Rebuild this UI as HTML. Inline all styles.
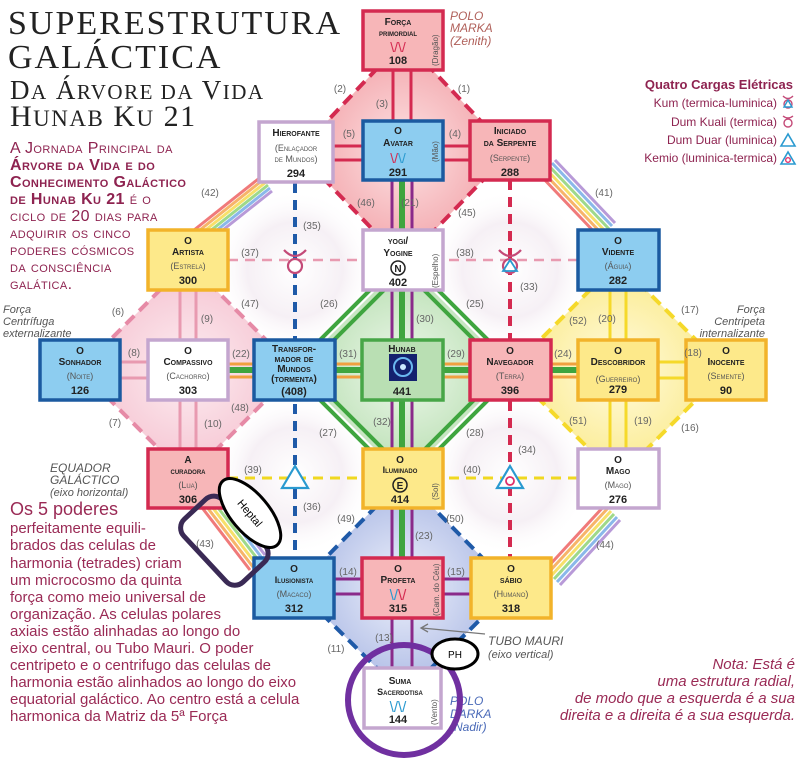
<!DOCTYPE html>
<html><head><meta charset="utf-8">
<style>
html,body{margin:0;padding:0;background:#fff;}
svg{display:block;}
.t{font-family:"Liberation Serif",serif;}
.s{font-family:"Liberation Sans",sans-serif;}
.nt{font-family:"Liberation Sans",sans-serif;font-weight:bold;font-size:10px;fill:#222;text-anchor:middle;font-variant:small-caps;}
.ns{font-family:"Liberation Sans",sans-serif;font-size:9px;fill:#555;text-anchor:middle;font-variant:small-caps;}
.nn{font-family:"Liberation Sans",sans-serif;font-weight:bold;font-size:11px;fill:#222;text-anchor:middle;}
.lb{font-family:"Liberation Sans",sans-serif;font-size:10px;fill:#666;text-anchor:middle;}
.vt{font-family:"Liberation Sans",sans-serif;font-size:8px;fill:#555;}
.p{font-family:"Liberation Sans",sans-serif;font-size:16px;fill:#8e2350;font-variant:small-caps;letter-spacing:0.4px;}
.q{font-family:"Liberation Sans",sans-serif;font-size:15px;fill:#9a2a55;}
.lg{font-family:"Liberation Sans",sans-serif;font-size:12px;fill:#8e2350;text-anchor:end;}
</style></head><body>
<svg width="803" height="758" viewBox="0 0 803 758" xmlns="http://www.w3.org/2000/svg">
<defs>
<radialGradient id="g1"><stop offset="0" stop-color="#fff"/><stop offset="0.6" stop-color="#f6f0f5"/><stop offset="1" stop-color="#fff" stop-opacity="0"/></radialGradient>
<radialGradient id="gr"><stop offset="0" stop-color="#fde3e4"/><stop offset="1" stop-color="#f2a2a8"/></radialGradient>
<radialGradient id="gp"><stop offset="0" stop-color="#fdeef2"/><stop offset="1" stop-color="#f5c2d0"/></radialGradient>
<radialGradient id="gy"><stop offset="0" stop-color="#fffbe0"/><stop offset="1" stop-color="#fbea8a"/></radialGradient>
<radialGradient id="gb"><stop offset="0" stop-color="#eef1fb"/><stop offset="1" stop-color="#aab8e4"/></radialGradient>
<radialGradient id="gg"><stop offset="0" stop-color="#eef8ec"/><stop offset="1" stop-color="#b7deb0"/></radialGradient>
</defs>

<circle cx="295" cy="270" r="80" fill="url(#g1)"/>
<circle cx="510" cy="270" r="80" fill="url(#g1)"/>
<circle cx="295" cy="475" r="80" fill="url(#g1)"/>
<circle cx="510" cy="475" r="80" fill="url(#g1)"/>

<polygon points="404,40 298,152 404,262 510,152" fill="url(#gr)" stroke="#d42a50" stroke-width="4" stroke-dasharray="12,7"/>
<polygon points="188,262 80,370 188,478 296,370" fill="url(#gp)" stroke="#e68aa6" stroke-width="4" stroke-dasharray="12,7"/>
<polygon points="618,262 510,370 618,478 726,370" fill="url(#gy)" stroke="#f5d92a" stroke-width="4" stroke-dasharray="12,7"/>
<polygon points="404,478 296,588 404,695 512,588" fill="url(#gb)" stroke="#1f5aa8" stroke-width="4" stroke-dasharray="12,7"/>
<polygon points="404,262 296,370 404,478 512,370" fill="url(#gg)"/>
<g fill="none" stroke="#3fa53f" stroke-width="4">
<polygon points="404,256 290,370 404,484 518,370"/>
<polygon points="404,270 304,370 404,470 504,370"/>
</g>

<g stroke-width="3" stroke-linecap="butt">
<g><line x1="262" y1="176" x2="184" y2="238" stroke="#f07a7a"/><line x1="264" y1="179" x2="186" y2="241" stroke="#f7b46a"/><line x1="266" y1="182" x2="188" y2="244" stroke="#f7e06a"/><line x1="268" y1="185" x2="190" y2="247" stroke="#9fd98a"/><line x1="270" y1="188" x2="192" y2="250" stroke="#8ab8ea"/><line x1="272" y1="191" x2="194" y2="253" stroke="#b89ad8"/></g>
<g><line x1="540" y1="175" x2="600" y2="238" stroke="#f07a7a"/><line x1="543" y1="172" x2="603" y2="235" stroke="#f7b46a"/><line x1="546" y1="169" x2="606" y2="232" stroke="#f7e06a"/><line x1="549" y1="166" x2="609" y2="229" stroke="#9fd98a"/><line x1="552" y1="163" x2="612" y2="226" stroke="#8ab8ea"/><line x1="555" y1="160" x2="615" y2="223" stroke="#b89ad8"/></g>
<g><line x1="200" y1="505" x2="250" y2="570" stroke="#f07a7a"/><line x1="203" y1="502" x2="253" y2="567" stroke="#f7b46a"/><line x1="206" y1="499" x2="256" y2="564" stroke="#f7e06a"/><line x1="209" y1="496" x2="259" y2="561" stroke="#9fd98a"/><line x1="212" y1="493" x2="262" y2="558" stroke="#8ab8ea"/><line x1="215" y1="490" x2="265" y2="555" stroke="#b89ad8"/></g>
<g><line x1="605" y1="505" x2="545" y2="570" stroke="#f07a7a"/><line x1="608" y1="508" x2="548" y2="573" stroke="#f7b46a"/><line x1="611" y1="511" x2="551" y2="576" stroke="#f7e06a"/><line x1="614" y1="514" x2="554" y2="579" stroke="#9fd98a"/><line x1="617" y1="517" x2="557" y2="582" stroke="#8ab8ea"/><line x1="620" y1="520" x2="560" y2="585" stroke="#b89ad8"/></g>
</g>

<line x1="295" y1="183" x2="295" y2="558" stroke="#1f5aa8" stroke-width="4" stroke-dasharray="10,7"/>
<line x1="510" y1="180" x2="510" y2="558" stroke="#d42a50" stroke-width="4" stroke-dasharray="10,7"/>
<line x1="228" y1="260" x2="578" y2="260" stroke="#e89ab0" stroke-width="2.5" stroke-dasharray="10,7"/>
<line x1="228" y1="478" x2="578" y2="478" stroke="#f0d820" stroke-width="3" stroke-dasharray="10,7"/>

<line x1="393" y1="70" x2="393" y2="122" stroke="#d42a50" stroke-width="3"/>
<line x1="411" y1="70" x2="411" y2="122" stroke="#d42a50" stroke-width="3"/>
<line x1="392" y1="180" x2="392" y2="668" stroke="#8a2a8a" stroke-width="3"/>
<line x1="412" y1="180" x2="412" y2="668" stroke="#8a2a8a" stroke-width="3"/>
<line x1="402" y1="180" x2="402" y2="558" stroke="#3fa53f" stroke-width="6"/>
<line x1="228" y1="364" x2="578" y2="364" stroke="#f0a040" stroke-width="3"/>
<line x1="228" y1="377" x2="578" y2="377" stroke="#f0a040" stroke-width="3"/>
<line x1="228" y1="370" x2="578" y2="370" stroke="#3fa53f" stroke-width="6"/>
<line x1="333" y1="146" x2="470" y2="146" stroke="#d42a50" stroke-width="3"/>
<line x1="333" y1="160" x2="470" y2="160" stroke="#d42a50" stroke-width="3"/>
<line x1="120" y1="362" x2="148" y2="362" stroke="#e89ab0" stroke-width="3"/>
<line x1="120" y1="378" x2="148" y2="378" stroke="#e89ab0" stroke-width="3"/>
<line x1="180" y1="262" x2="180" y2="449" stroke="#e89ab0" stroke-width="3"/>
<line x1="196" y1="262" x2="196" y2="449" stroke="#e89ab0" stroke-width="3"/>
<line x1="610" y1="262" x2="610" y2="449" stroke="#f5d92a" stroke-width="3"/>
<line x1="626" y1="262" x2="626" y2="449" stroke="#f5d92a" stroke-width="3"/>
<line x1="658" y1="362" x2="685" y2="362" stroke="#f5d92a" stroke-width="3"/>
<line x1="658" y1="378" x2="685" y2="378" stroke="#f5d92a" stroke-width="3"/>
<line x1="333" y1="579" x2="470" y2="579" stroke="#8a2a8a" stroke-width="3"/>
<line x1="333" y1="594" x2="470" y2="594" stroke="#8a2a8a" stroke-width="3"/>

<g fill="#fff" stroke="#c44a78" stroke-width="2.2"><circle cx="295" cy="266" r="7"/><path d="M284,250 Q295,262 306,250" fill="none"/></g>
<g stroke="#c44a78" stroke-width="2.2" fill="none"><circle cx="510" cy="266" r="7" fill="#fff"/><path d="M499,250 Q510,262 521,250"/></g>
<polygon points="510,260 503,271 517,271" fill="none" stroke="#2a9ad0" stroke-width="1.8"/>
<polygon points="295,466 282,488 308,488" fill="#fff" stroke="#2a9ad0" stroke-width="2.2"/>
<polygon points="510,466 497,488 523,488" fill="#fff" stroke="#2a9ad0" stroke-width="2.2"/>
<circle cx="510" cy="481" r="4" fill="none" stroke="#e0306a" stroke-width="1.8"/>

<g stroke-width="3.5">
<rect x="363" y="11" width="80" height="59" fill="#f7b6b8" stroke="#d42a50"/>
<rect x="259" y="122" width="74" height="60" fill="#fff" stroke="#c4a6cf"/>
<rect x="363" y="121" width="80" height="59" fill="#8dcdf0" stroke="#1b5aa0"/>
<rect x="470" y="121" width="80" height="59" fill="#f7b6b8" stroke="#d42a50"/>
<rect x="148" y="230" width="80" height="60" fill="#fde98a" stroke="#f2b32a"/>
<rect x="363" y="230" width="80" height="60" fill="#fff" stroke="#c4a6cf"/>
<rect x="578" y="230" width="81" height="60" fill="#8dcdf0" stroke="#1b5aa0"/>
<rect x="40" y="340" width="80" height="60" fill="#8dcdf0" stroke="#1b5aa0"/>
<rect x="148" y="340" width="80" height="60" fill="#fff" stroke="#c4a6cf"/>
<rect x="254" y="340" width="81" height="60" fill="#8dcdf0" stroke="#1b5aa0"/>
<rect x="362" y="340" width="81" height="60" fill="#b9dfb3" stroke="#47a647"/>
<rect x="470" y="340" width="81" height="60" fill="#f7b6b8" stroke="#d42a50"/>
<rect x="578" y="340" width="80" height="60" fill="#fde98a" stroke="#f2b32a"/>
<rect x="686" y="340" width="80" height="60" fill="#fde98a" stroke="#f2b32a"/>
<rect x="148" y="449" width="80" height="59" fill="#f7b6b8" stroke="#d42a50"/>
<rect x="363" y="449" width="80" height="59" fill="#fde98a" stroke="#f2b32a"/>
<rect x="578" y="449" width="81" height="59" fill="#fff" stroke="#c4a6cf"/>
<rect x="254" y="558" width="80" height="60" fill="#8dcdf0" stroke="#1b5aa0"/>
<rect x="362" y="558" width="81" height="60" fill="#f7b6b8" stroke="#d42a50"/>
<rect x="471" y="558" width="80" height="60" fill="#fde98a" stroke="#f2b32a"/>
<rect x="364" y="668" width="77" height="60" fill="#fff" stroke="#c4a6cf"/>
</g>

<text class="nt" x="398" y="25">Força</text><text class="nt" x="398" y="36" style="font-size:9px">primordial</text>
<text x="398" y="52" text-anchor="middle" font-family="Liberation Sans" font-size="14" fill="#d42a50">\/\/</text>
<text class="nn" x="398" y="64">108</text>
<text class="vt" transform="translate(438,66) rotate(-90)">(Dragão)</text>

<text class="nt" x="296" y="136">Hierofante</text><text class="ns" x="296" y="151">(Enlaçador</text><text class="ns" x="296" y="162">de Mundos)</text><text class="nn" x="296" y="177">294</text>
<text class="nt" x="398" y="134">O</text><text class="nt" x="398" y="146">Avatar</text>
<text x="398" y="163" text-anchor="middle" font-family="Liberation Sans" font-size="14" fill="#d42a50">\/<tspan fill="#2a9ad0">\/</tspan></text>
<text class="nn" x="398" y="176">291</text><text class="vt" transform="translate(438,162) rotate(-90)">(Mão)</text>
<text class="nt" x="510" y="134">Iniciado</text><text class="nt" x="510" y="146">da Serpente</text><text class="ns" x="510" y="161">(Serpente)</text><text class="nn" x="510" y="176">288</text>

<text class="nt" x="188" y="244">O</text><text class="nt" x="188" y="255">Artista</text><text class="ns" x="188" y="269">(Estrela)</text><text class="nn" x="188" y="284">300</text>
<text class="nt" x="398" y="244">yogi/</text><text class="nt" x="398" y="256">Yogine</text>
<circle cx="398" cy="268" r="7" fill="none" stroke="#222" stroke-width="1.5"/><text class="nt" x="398" y="272" style="font-variant:normal">N</text>
<text class="nn" x="398" y="286">402</text><text class="vt" transform="translate(438,288) rotate(-90)">(Espelho)</text>
<text class="nt" x="618" y="244">O</text><text class="nt" x="618" y="255">Vidente</text><text class="ns" x="618" y="269">(Águia)</text><text class="nn" x="618" y="284">282</text>

<text class="nt" x="80" y="354">O</text><text class="nt" x="80" y="365">Sonhador</text><text class="ns" x="80" y="379">(Noite)</text><text class="nn" x="80" y="394">126</text>
<text class="nt" x="188" y="354">O</text><text class="nt" x="188" y="365">Compassivo</text><text class="ns" x="188" y="379">(Cachorro)</text><text class="nn" x="188" y="394">303</text>
<text class="nt" x="294" y="352">Transfor-</text><text class="nt" x="294" y="362">mador de</text><text class="nt" x="294" y="372">Mundos</text><text class="nt" x="294" y="382">(tormenta)</text><text class="nn" x="294" y="395">(408)</text>
<text class="nt" x="402" y="352">Hunab</text><text class="nt" x="402" y="363">Ku 21</text>
<rect x="389" y="354" width="28" height="27" fill="#14216e"/><circle cx="403" cy="367" r="9" fill="none" stroke="#6ab8f0" stroke-width="2"/><circle cx="403" cy="367" r="3" fill="#cde8ff"/>
<text class="nn" x="402" y="395">441</text>
<text class="nt" x="510" y="354">O</text><text class="nt" x="510" y="365">Navegador</text><text class="ns" x="510" y="379">(Terra)</text><text class="nn" x="510" y="394">396</text>
<text class="nt" x="618" y="354">O</text><text class="nt" x="618" y="365">Descobridor</text><text class="ns" x="618" y="382">(Guerreiro)</text><text class="nn" x="618" y="393">279</text>
<text class="nt" x="726" y="354">O</text><text class="nt" x="726" y="365">Inocente</text><text class="ns" x="726" y="379">(Semente)</text><text class="nn" x="726" y="394">90</text>

<text class="nt" x="188" y="463">A</text><text class="nt" x="188" y="474" style="font-size:9px">curadora</text><text class="ns" x="188" y="488">(Lua)</text><text class="nn" x="188" y="503">306</text>
<text class="nt" x="400" y="463">O</text><text class="nt" x="400" y="473" style="font-size:9px">Iluminado</text>
<circle cx="400" cy="485" r="7" fill="none" stroke="#222" stroke-width="1.5"/><text class="nt" x="400" y="489" style="font-variant:normal">E</text>
<text class="nn" x="400" y="503">414</text><text class="vt" transform="translate(438,500) rotate(-90)">(Sol)</text>
<text class="nt" x="618" y="463">O</text><text class="nt" x="618" y="474">Mago</text><text class="ns" x="618" y="488">(Mago)</text><text class="nn" x="618" y="503">276</text>

<text class="nt" x="294" y="572">O</text><text class="nt" x="294" y="583" style="font-size:9px">Ilusionista</text><text class="ns" x="294" y="597">(Macaco)</text><text class="nn" x="294" y="612">312</text>
<text class="nt" x="398" y="572">O</text><text class="nt" x="398" y="583">Profeta</text>
<text x="398" y="600" text-anchor="middle" font-family="Liberation Sans" font-size="15" fill="#2a9ad0">\/<tspan fill="#d42a50">\/</tspan></text>
<text class="nn" x="398" y="612">315</text><text class="vt" transform="translate(439,616) rotate(-90)">(Cam. do Céu)</text>
<text class="nt" x="511" y="572">O</text><text class="nt" x="511" y="583">sábio</text><text class="ns" x="511" y="597">(Humano)</text><text class="nn" x="511" y="612">318</text>
<text class="nt" x="400" y="684">Suma</text><text class="nt" x="400" y="695" style="font-size:9px">Sacerdotisa</text>
<text x="398" y="712" text-anchor="middle" font-family="Liberation Sans" font-size="15" fill="#2a9ad0">\/\/</text>
<text class="nn" x="398" y="723">144</text><text class="vt" transform="translate(437,725) rotate(-90)">(Vento)</text>

<g>
<text class="lb" x="340" y="92">(2)</text><text class="lb" x="382" y="107">(3)</text><text class="lb" x="464" y="92">(1)</text>
<text class="lb" x="349" y="137">(5)</text><text class="lb" x="455" y="137">(4)</text>
<text class="lb" x="210" y="196">(42)</text><text class="lb" x="366" y="206">(46)</text><text class="lb" x="410" y="206">(21)</text><text class="lb" x="467" y="216">(45)</text><text class="lb" x="604" y="196">(41)</text>
<text class="lb" x="312" y="229">(35)</text><text class="lb" x="250" y="256">(37)</text><text class="lb" x="465" y="256">(38)</text><text class="lb" x="529" y="290">(33)</text>
<text class="lb" x="250" y="307">(47)</text><text class="lb" x="329" y="307">(26)</text><text class="lb" x="425" y="322">(30)</text><text class="lb" x="475" y="307">(25)</text>
<text class="lb" x="118" y="315">(6)</text><text class="lb" x="207" y="322">(9)</text><text class="lb" x="578" y="324">(52)</text><text class="lb" x="607" y="322">(20)</text><text class="lb" x="690" y="313">(17)</text>
<text class="lb" x="134" y="356">(8)</text><text class="lb" x="241" y="357">(22)</text><text class="lb" x="348" y="357">(31)</text><text class="lb" x="456" y="357">(29)</text><text class="lb" x="563" y="357">(24)</text><text class="lb" x="693" y="356">(18)</text>
<text class="lb" x="240" y="411">(48)</text><text class="lb" x="115" y="426">(7)</text><text class="lb" x="213" y="427">(10)</text><text class="lb" x="382" y="425">(32)</text><text class="lb" x="328" y="436">(27)</text><text class="lb" x="475" y="436">(28)</text>
<text class="lb" x="578" y="424">(51)</text><text class="lb" x="643" y="424">(19)</text><text class="lb" x="690" y="431">(16)</text><text class="lb" x="527" y="453">(34)</text>
<text class="lb" x="253" y="473">(39)</text><text class="lb" x="472" y="473">(40)</text>
<text class="lb" x="312" y="510">(36)</text><text class="lb" x="346" y="522">(49)</text><text class="lb" x="424" y="539">(23)</text><text class="lb" x="455" y="522">(50)</text>
<text class="lb" x="205" y="547">(43)</text><text class="lb" x="605" y="548">(44)</text>
<text class="lb" x="348" y="575">(14)</text><text class="lb" x="456" y="575">(15)</text><text class="lb" x="384" y="641">(13)</text><text class="lb" x="336" y="652">(11)</text>
</g>

<g class="t" fill="#222">
<text x="8" y="34" font-size="34" letter-spacing="2">SUPERESTRUTURA</text>
<text x="8" y="68" font-size="34" letter-spacing="2">GALÁCTICA</text>
<text x="10" y="99" font-size="27" letter-spacing="1.5">D<tspan font-size="21">A</tspan> Á<tspan font-size="21">RVORE DA</tspan> V<tspan font-size="21">IDA</tspan></text>
<text x="10" y="126" font-size="30" letter-spacing="1.5">H<tspan font-size="23">UNAB</tspan> K<tspan font-size="23">U</tspan> 21</text>
</g>

<g class="p">
<text x="10" y="153">A Jornada Principal da</text>
<text x="10" y="170" font-weight="bold">Árvore da Vida e do</text>
<text x="10" y="187" font-weight="bold">Conhecimento Galáctico</text>
<text x="10" y="204"><tspan font-weight="bold">de Hunab Ku 21</tspan> é o</text>
<text x="10" y="221">ciclo de 20 dias para</text>
<text x="10" y="238">adquirir os cinco</text>
<text x="10" y="255">poderes cósmicos</text>
<text x="10" y="272">da consciência</text>
<text x="10" y="289">galática.</text>
</g>

<g class="s" font-style="italic" font-size="11" fill="#555">
<text x="3" y="313">Força</text><text x="3" y="325">Centrífuga</text><text x="3" y="337">externalizante</text>
<text x="765" y="313" text-anchor="end">Força</text><text x="765" y="325" text-anchor="end">Centripeta</text><text x="765" y="337" text-anchor="end">internalizante</text>
<text x="50" y="472" font-size="12">EQUADOR</text><text x="50" y="484" font-size="12">GALÁCTICO</text><text x="50" y="496">(eixo horizontal)</text>
<text x="450" y="20" fill="#b0605a" font-size="12">POLO</text><text x="450" y="32" fill="#b0605a" font-size="12">MARKA</text><text x="450" y="45" fill="#b0605a" font-size="12">(Zenith)</text>
<text x="488" y="645" font-size="12">TUBO MAURI</text><text x="488" y="658">(eixo vertical)</text>
<text x="450" y="705" fill="#4a6ab8" font-size="12">POLO</text><text x="450" y="718" fill="#4a6ab8" font-size="12">DARKA</text><text x="450" y="731" fill="#4a6ab8" font-size="12">(Nadir)</text>
</g>
<line x1="485" y1="634" x2="422" y2="628" stroke="#777" stroke-width="1.3"/>
<polyline points="428,624 421,628 428,632" fill="none" stroke="#777" stroke-width="1.3"/>

<text class="lg" x="793" y="89" font-weight="bold" style="font-size:13px">Quatro Cargas Elétricas</text>
<text class="lg" x="777" y="107">Kum (termica-luminica)</text>
<text class="lg" x="777" y="126">Dum Kuali (termica)</text>
<text class="lg" x="777" y="144">Dum Duar (luminica)</text>
<text class="lg" x="777" y="162">Kemio (luminica-termica)</text>
<g fill="none" stroke-width="1.4">
<circle cx="788" cy="104" r="4" stroke="#c44a78"/><polygon points="788,100 784,107 792,107" stroke="#2a9ad0"/><path d="M783,96 Q788,101 793,96" stroke="#c44a78"/>
<circle cx="788" cy="123" r="4" stroke="#c44a78"/><path d="M783,116 Q788,120 793,116" stroke="#c44a78"/>
<polygon points="788,134 781,146 795,146" stroke="#2a9ad0" stroke-width="1.6"/>
<polygon points="788,152 781,164 795,164" stroke="#2a9ad0" stroke-width="1.6"/><circle cx="788" cy="160" r="2.3" stroke="#e0306a"/>
</g>

<g class="q">
<text x="10" y="515" font-size="18">Os 5 poderes</text>
<text x="10" y="533">perfeitamente equili-</text>
<text x="10" y="550">brados das celulas de</text>
<text x="10" y="568">harmonia (tetrades) criam</text>
<text x="10" y="585">um microcosmo da quinta</text>
<text x="10" y="602">força como meio universal de</text>
<text x="10" y="619">organização. As celulas polares</text>
<text x="10" y="636">axiais estão alinhadas ao longo do</text>
<text x="10" y="653">eixo central, ou Tubo Mauri. O poder</text>
<text x="10" y="670">centripeto e o centrifugo das celulas de</text>
<text x="10" y="687">harmonia estão alinhados ao longo do eixo</text>
<text x="10" y="704">equatorial galáctico. Ao centro está a celula</text>
<text x="10" y="721">harmonica da Matriz da 5ª Força</text>
</g>
<g class="q" font-style="italic" text-anchor="end" font-size="14">
<text x="795" y="669">Nota: Está é</text>
<text x="795" y="686">uma estrutura radial,</text>
<text x="795" y="703">de modo que a esquerda é a sua</text>
<text x="795" y="720">direita e a direita é a sua esquerda.</text>
</g>

<rect x="181" y="514" width="86" height="53" rx="12" fill="none" stroke="#3a2a55" stroke-width="5" transform="rotate(47 224 541)"/>
<g transform="rotate(50 250 513)">
<ellipse cx="250" cy="513" rx="42" ry="19" fill="#fff" stroke="#000" stroke-width="3"/>
<text x="250" y="517" text-anchor="middle" font-family="Liberation Sans" font-size="11" fill="#000">Heptal</text>
</g>
<ellipse cx="404" cy="700" rx="56" ry="55" fill="none" stroke="#7030a0" stroke-width="6"/>
<ellipse cx="455" cy="654" rx="23" ry="15" fill="#fff" stroke="#000" stroke-width="3"/>
<text x="455" y="658" text-anchor="middle" font-family="Liberation Sans" font-size="10" fill="#000">PH</text>
</svg>
</body></html>
